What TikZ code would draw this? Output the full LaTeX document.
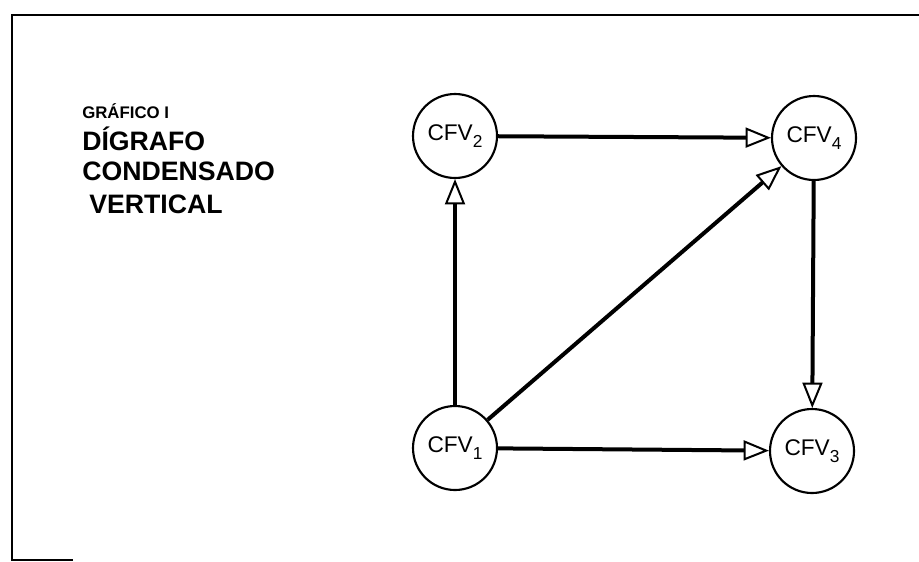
\documentclass[tikz,border=0pt]{standalone}
\usepackage{fontspec}
\setmainfont{Liberation Sans}
\usetikzlibrary{arrows.meta}
\tikzset{
  cfv/.style={draw, circle, line width=1.6pt, minimum size=63pt, inner sep=0pt,
    font=\fontsize{17}{17}\selectfont},
  flecha/.style={line width=3pt,
    -{Triangle[length=19pt,width=15pt,fill=white,line width=1.5pt]}},
  titulo/.style={anchor=base west, inner sep=0pt, font=\bfseries\fontsize{20}{20}\selectfont},
}
\newcommand{\cfvnum}[1]{CFV\raisebox{-0.6ex}{\fontsize{13}{13}\selectfont #1}}

\begin{document}
\begin{tikzpicture}[x=0.75pt,y=-0.75pt]
    \useasboundingbox (0,0) rectangle (919,561);
    % marco
    \draw[line width=2pt] (919,15) -- (12,15) -- (12,560) -- (73,560);
    % titulo
    \node (grafico) [anchor=base west, inner sep=0pt, font=\bfseries\fontsize{12.6}{12.6}\selectfont] at (82,118) {GRÁFICO I};
    \node (digrafo) [titulo] at (82,150) {DÍGRAFO};
    \node (condensado) [titulo] at (82,180) {CONDENSADO};
    \node (vertical) [titulo] at (89,213) {VERTICAL};
    % vertices
    \node (cfv2) [cfv] at (455,136) {\cfvnum{2}};
    \node (cfv4) [cfv] at (814,138) {\cfvnum{4}};
    \node (cfv1) [cfv] at (455,448) {\cfvnum{1}};
    \node (cfv3) [cfv] at (812,451) {\cfvnum{3}};
    % arcos
    \draw[flecha] (cfv1) -- (cfv2);
    \draw[flecha] (cfv2) -- (cfv4);
    \draw[flecha] (cfv1) -- (cfv4);
    \draw[flecha] (cfv4) -- (cfv3);
    \draw[flecha] (cfv1) -- (cfv3);
\end{tikzpicture}
\end{document}
